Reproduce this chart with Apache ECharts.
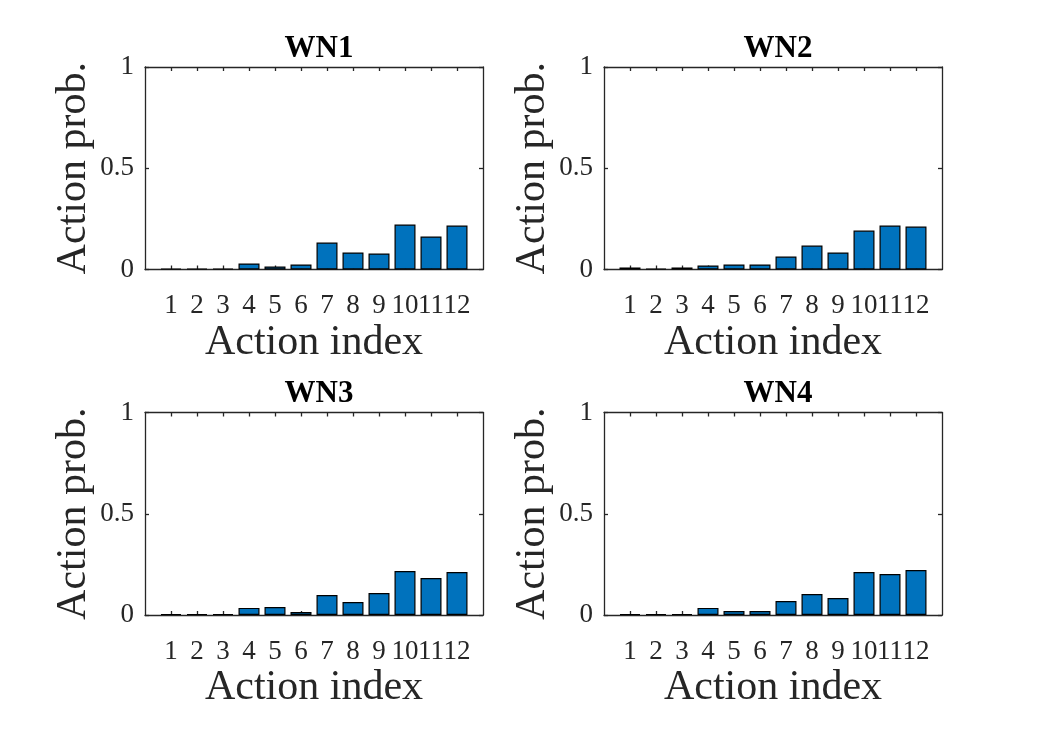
<!DOCTYPE html>
<html>
<head>
<meta charset="utf-8">
<script src="https://cdn.jsdelivr.net/npm/echarts@6/dist/echarts.min.js"></script>
<style>
html,body{margin:0;padding:0;background:#fff;}
#c{width:1042px;height:729px;}
</style>
</head>
<body>
<div id="c"></div>
<script>
const categories = [1,2,3,4,5,6,7,8,9,10,11,12];
const titles = ['WN1','WN2','WN3','WN4'];
const wn1 = [0.005,0.005,0.005,0.030,0.015,0.025,0.133,0.084,0.079,0.222,0.163,0.217];
const wn2 = [0.010,0.005,0.010,0.020,0.025,0.025,0.064,0.118,0.084,0.192,0.217,0.212];
const wn3 = [0.005,0.005,0.005,0.035,0.039,0.015,0.099,0.064,0.109,0.217,0.183,0.212];
const wn4 = [0.005,0.005,0.005,0.035,0.020,0.020,0.069,0.104,0.084,0.212,0.202,0.222];
const yTicks = [0, 0.5, 1];
const xLabel = 'Action index';
const yLabel = 'Action prob.';

const seriesValues = [wn1, wn2, wn3, wn4];
const FONT = '"Liberation Serif", "Times New Roman", serif';
const AX = '#262626';
const grids = [
  {left:145, top:67, width:338, height:202.5},
  {left:604, top:67, width:338, height:202.5},
  {left:145, top:412.5, width:338, height:202.5},
  {left:604, top:412.5, width:338, height:202.5}
];
const opt = {
  animation:false,
  backgroundColor:'#fff',
  title:[], grid:[], xAxis:[], yAxis:[], series:[]
};
grids.forEach((g,i)=>{
  opt.grid.push(Object.assign({containLabel:false, show:false}, g));
  opt.title.push({
    text:titles[i], left:g.left + g.width/2, top:g.top-39, textAlign:'center',
    textStyle:{fontFamily:FONT, fontWeight:'bold', fontSize:31, color:'#000'}
  });
  const common = {
    gridIndex:i, type:'value', min:0, max:13, interval:1,
    axisLine:{show:true, onZero:false, lineStyle:{color:AX, width:1.3}},
    splitLine:{show:false}
  };
  opt.xAxis.push(Object.assign({}, common, {
    position:'bottom',
    name:xLabel, nameLocation:'middle', nameGap:52,
    nameTextStyle:{fontFamily:FONT, fontSize:42, color:AX},
    axisLabel:{show:true, margin:23, fontFamily:FONT, fontSize:27, color:AX,
      formatter:v => categories.indexOf(v) >= 0 ? String(v) : '',
      showMinLabel:false, showMaxLabel:false},
    axisTick:{show:true, inside:true, length:4, lineStyle:{color:AX, width:1.3},
      customValues:categories}
  }));
  opt.xAxis.push(Object.assign({}, common, {
    position:'top', axisLabel:{show:false},
    axisTick:{show:true, inside:true, length:4, lineStyle:{color:AX, width:1.3},
      customValues:categories}
  }));
  const ycommon = {
    gridIndex:i, type:'value', min:0, max:1, interval:0.5,
    axisLine:{show:true, onZero:false, lineStyle:{color:AX, width:1.3}},
    axisTick:{show:true, inside:true, length:4, lineStyle:{color:AX, width:1.3}},
    splitLine:{show:false}
  };
  opt.yAxis.push(Object.assign({}, ycommon, {
    position:'left',
    name:yLabel, nameLocation:'middle', nameGap:50,
    nameTextStyle:{fontFamily:FONT, fontSize:42, color:AX},
    axisLabel:{show:true, margin:11, fontFamily:FONT, fontSize:27, color:AX,
      formatter:v => yTicks.indexOf(v) >= 0 ? String(v) : ''}
  }));
  opt.yAxis.push(Object.assign({}, ycommon, {
    position:'right', axisLabel:{show:false}
  }));
  opt.series.push({
    type:'bar', xAxisIndex:2*i, yAxisIndex:2*i,
    barWidth:21,
    data: categories.map((c,k)=>[c, seriesValues[i][k]]),
    itemStyle:{color:'#0072BD', borderColor:'#000', borderWidth:1.2},
    z:1
  });
});
const chart = echarts.init(document.getElementById('c'), null, {renderer:'canvas'});
chart.setOption(opt);
</script>
</body>
</html>
